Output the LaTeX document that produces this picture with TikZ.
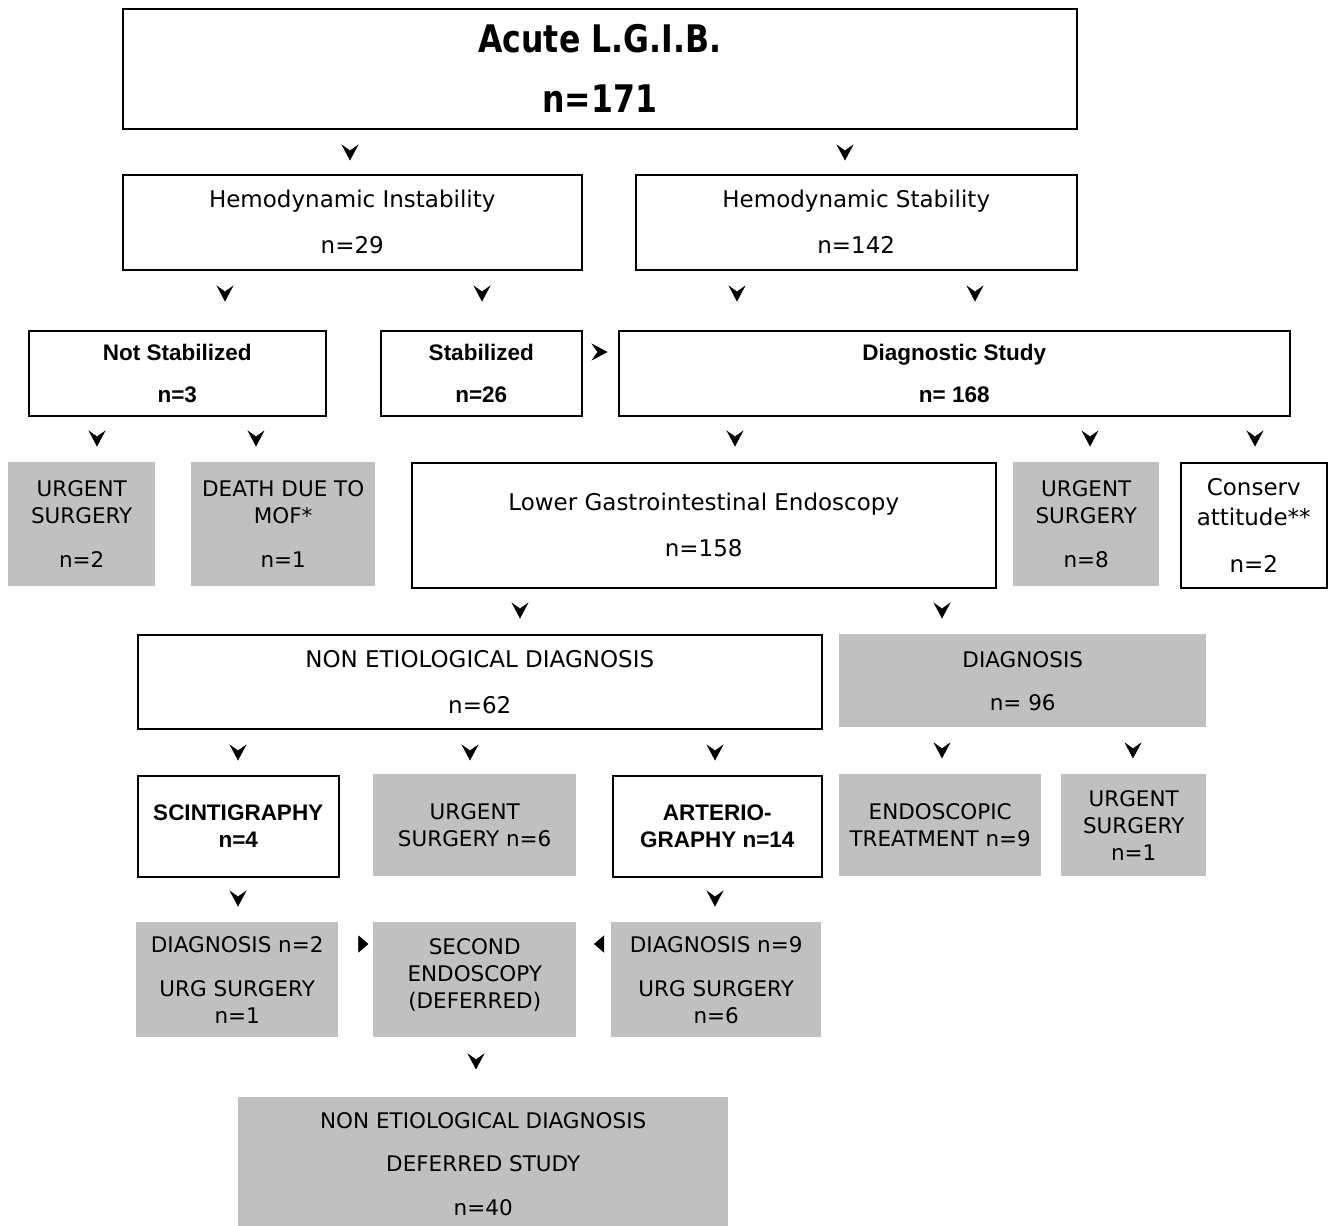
\documentclass[tikz,border=0pt]{standalone}
\usepackage{fontspec}
\setmainfont{DejaVu Sans}
\newfontfamily\headfont[FakeStretch=0.83]{DejaVu Sans Bold}
\newfontfamily\arialfont{Liberation Sans}
\usetikzlibrary{arrows.meta,decorations.markings}
\definecolor{boxgray}{RGB}{192,192,192}

\begin{document}
\begin{tikzpicture}[x=1pt,y=-1pt,
  wbox/.style={draw,line width=1.5pt,align=center,inner sep=0pt,anchor=north west,
               font=\fontsize{23}{46}\selectfont},
  bbox/.style={wbox,font=\arialfont\bfseries\fontsize{22.5}{42}\selectfont},
  gbox/.style={fill=boxgray,align=center,inner sep=0pt,anchor=north west,
               font=\fontsize{21.5}{27}\selectfont},
  tipmark/.style={draw=none,postaction=decorate,decoration={markings,
               mark=at position #1 with {\arrow[black]{Stealth[length=16pt,width=17pt,inset=6pt]}}}},
  tipmark/.default=31pt,
  solidmark/.style={draw=none,postaction=decorate,decoration={markings,
               mark=at position #1 with {\arrow[black]{Triangle[length=10pt,width=17pt]}}}}]
\useasboundingbox (0,0) rectangle (1328,1226);

\node[wbox,minimum width=954pt,minimum height=120pt,font=\headfont\fontsize{38}{60}\selectfont] (title) at (122,8)
  {Acute L.G.I.B.\\ n=171};
\node[wbox,minimum width=459pt,minimum height=95pt] (instab) at (122,174) {Hemodynamic Instability\\ n=29};
\node[wbox,minimum width=441pt,minimum height=95pt] (stab) at (635,174) {Hemodynamic Stability\\ n=142};
\node[bbox,minimum width=297pt,minimum height=85pt] (notstab) at (28,330) {Not Stabilized\\ n=3};
\node[bbox,minimum width=201pt,minimum height=85pt] (stabzd) at (380,330) {Stabilized\\ n=26};
\node[bbox,minimum width=671pt,minimum height=85pt] (study) at (618,330) {Diagnostic Study\\ n= 168};
\node[gbox,minimum width=147pt,minimum height=124pt] (urgA) at (8,462) {URGENT\\ SURGERY\\[17pt] n=2};
\node[gbox,minimum width=184pt,minimum height=124pt] (death) at (191,462) {DEATH DUE TO\\ MOF*\\[17pt] n=1};
\node[wbox,minimum width=584pt,minimum height=125pt] (lowgi) at (411,462) {Lower Gastrointestinal Endoscopy\\ n=158};
\node[gbox,minimum width=146pt,minimum height=124pt] (urgB) at (1013,462) {URGENT\\ SURGERY\\[17pt] n=8};
\node[wbox,minimum width=146pt,minimum height=125pt,font=\fontsize{23}{30}\selectfont] (conserv) at (1180,462)
  {Conserv\\ attitude**\\[17pt] n=2};
\node[wbox,minimum width=684pt,minimum height=94pt] (nonet) at (137,634) {NON ETIOLOGICAL DIAGNOSIS\\ n=62};
\node[gbox,minimum width=367pt,minimum height=93pt,font=\fontsize{21.5}{43}\selectfont] (diag) at (839,634) {DIAGNOSIS\\ n= 96};
\node[bbox,minimum width=201pt,minimum height=101pt,font=\arialfont\bfseries\fontsize{22.5}{27}\selectfont] (scint) at (137,775)
  {SCINTIGRAPHY\\ n=4};
\node[gbox,minimum width=203pt,minimum height=102pt] (urgC) at (373,774) {URGENT\\ SURGERY n=6};
\node[bbox,minimum width=209pt,minimum height=101pt,font=\arialfont\bfseries\fontsize{22.5}{27}\selectfont] (arter) at (612,775)
  {ARTERIO-\\ GRAPHY n=14};
\node[gbox,minimum width=202pt,minimum height=102pt] (endo) at (839,774) {ENDOSCOPIC\\ TREATMENT n=9};
\node[gbox,minimum width=145pt,minimum height=102pt] (urgD) at (1061,774) {URGENT\\ SURGERY\\ n=1};
\node[gbox,minimum width=202pt,minimum height=115pt] (diagtwo) at (136,922) {DIAGNOSIS n=2\\[17pt] URG SURGERY\\ n=1};
\node[gbox,minimum width=203pt,minimum height=115pt] (second) at (373,922) {SECOND\\ ENDOSCOPY\\ (DEFERRED)\\[-15pt]\mbox{}};
\node[gbox,minimum width=210pt,minimum height=115pt] (diagnine) at (611,922) {DIAGNOSIS n=9\\[17pt] URG SURGERY\\ n=6};
\node[gbox,minimum width=490pt,minimum height=133pt,font=\fontsize{21.5}{43.5}\selectfont] (deferred) at (238,1097)
  {NON ETIOLOGICAL DIAGNOSIS\\ DEFERRED STUDY\\ n=40};

\path
(350,0 |- title.south)     edge[tipmark]        (350,0 |- instab.north)
(845,0 |- title.south)     edge[tipmark]        (845,0 |- stab.north)
(225,0 |- instab.south)    edge[tipmark]        (225,0 |- notstab.north)
(482,0 |- instab.south)    edge[tipmark]        (482,0 |- stabzd.north)
(737,0 |- stab.south)      edge[tipmark]        (737,0 |- study.north)
(975,0 |- stab.south)      edge[tipmark]        (975,0 |- study.north)
(stabzd.east |- 0,352)     edge[tipmark=25pt]   (study.west |- 0,352)
(97,0 |- notstab.south)    edge[tipmark=30pt]   (97,0 |- urgA.north)
(256,0 |- notstab.south)   edge[tipmark=30pt]   (256,0 |- death.north)
(735,0 |- study.south)     edge[tipmark=30pt]   (735,0 |- lowgi.north)
(1090,0 |- study.south)    edge[tipmark=30pt]   (1090,0 |- urgB.north)
(1255,0 |- study.south)    edge[tipmark=30pt]   (1255,0 |- conserv.north)
(520,0 |- lowgi.south)     edge[tipmark=30pt]   (520,0 |- nonet.north)
(942,0 |- lowgi.south)     edge[tipmark=30pt]   (942,0 |- diag.north)
(238,0 |- nonet.south)     edge[tipmark]        (238,0 |- scint.north)
(470,0 |- nonet.south)     edge[tipmark]        (470,0 |- urgC.north)
(715,0 |- nonet.south)     edge[tipmark]        (715,0 |- arter.north)
(942,0 |- diag.south)      edge[tipmark]        (942,0 |- endo.north)
(1133,0 |- diag.south)     edge[tipmark]        (1133,0 |- urgD.north)
(238,0 |- scint.south)     edge[tipmark=29pt]   (238,0 |- diagtwo.north)
(715,0 |- arter.south)     edge[tipmark=29pt]   (715,0 |- diagnine.north)
(476,0 |- second.south)    edge[tipmark=32pt]   (476,0 |- deferred.north)
(diagtwo.east |- 0,944)    edge[solidmark=30pt] (second.west |- 0,944)
(diagnine.west |- 0,944)   edge[solidmark=17pt] (second.east |- 0,944)
;
\end{tikzpicture}
\end{document}
